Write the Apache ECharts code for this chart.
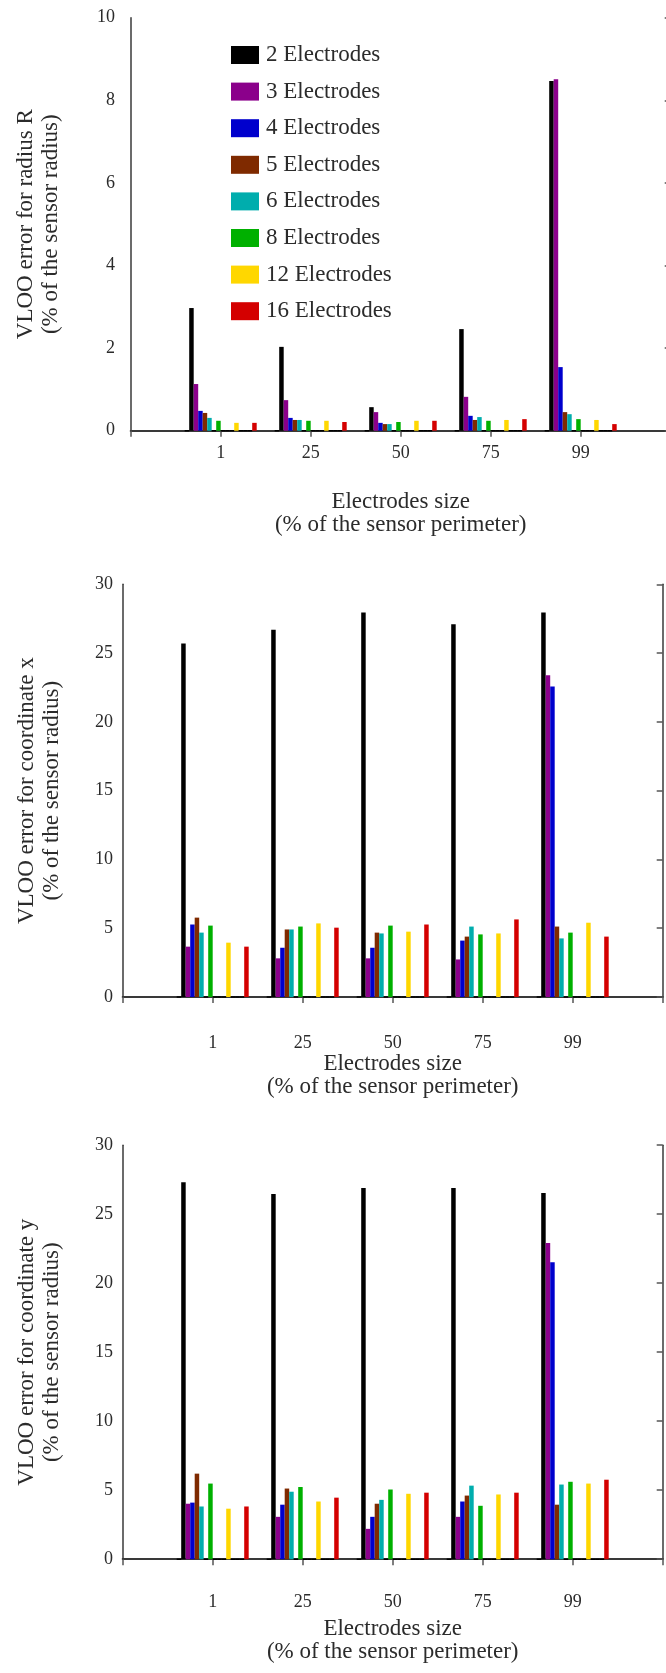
<!DOCTYPE html>
<html>
<head>
<meta charset="utf-8">
<script src="https://cdn.jsdelivr.net/npm/echarts@6/dist/echarts.min.js"></script>
<style>
html,body{margin:0;padding:0;background:#fff;}
#chart{width:666px;height:1673px;}
</style>
</head>
<body>
<div id="chart"></div>
<script>
// ---------- data ----------
const categories = ['1', '25', '50', '75', '99'];
const seriesNames = ['2 Electrodes', '3 Electrodes', '4 Electrodes', '5 Electrodes',
  '6 Electrodes', '8 Electrodes', '12 Electrodes', '16 Electrodes'];
const electrodeCounts = [2, 3, 4, 5, 6, 8, 12, 16];
// every electrode count has a slot in a cluster; counts without results are zero bars
const slotCounts = [1, 2, 3, 4, 5, 6, 7, 8, 9, 10, 11, 12, 13, 14, 15, 16];
const colors = ['#000000', '#8b008b', '#0000cd', '#7f2a00', '#00adad', '#00b000', '#ffd700', '#d40000'];

// VLOO error for radius R
const r2 = [2.97, 2.03, 0.57, 2.46, 8.47];
const r3 = [1.13, 0.74, 0.45, 0.82, 8.51];
const r4 = [0.48, 0.31, 0.19, 0.36, 1.54];
const r5 = [0.43, 0.26, 0.16, 0.26, 0.45];
const r6 = [0.31, 0.26, 0.16, 0.33, 0.40];
const r8 = [0.24, 0.24, 0.21, 0.24, 0.28];
const r12 = [0.19, 0.24, 0.24, 0.26, 0.26];
const r16 = [0.19, 0.21, 0.24, 0.28, 0.16];

// VLOO error for coordinate x
const x2 = [25.7, 26.7, 27.95, 27.1, 27.95];
const x3 = [3.66, 2.81, 2.81, 2.73, 23.38];
const x4 = [5.27, 3.58, 3.58, 4.10, 22.57];
const x5 = [5.77, 4.91, 4.68, 4.39, 5.12];
const x6 = [4.68, 4.91, 4.62, 5.12, 4.26];
const x8 = [5.19, 5.12, 5.19, 4.55, 4.68];
const x12 = [3.95, 5.35, 4.75, 4.62, 5.40];
const x16 = [3.66, 5.04, 5.27, 5.64, 4.39];

// VLOO error for coordinate y
const y2 = [27.31, 26.47, 26.90, 26.90, 26.54];
const y3 = [4.02, 3.07, 2.20, 3.07, 22.91];
const y4 = [4.10, 3.95, 3.07, 4.18, 21.52];
const y5 = [6.20, 5.12, 4.02, 4.61, 3.95];
const y6 = [3.82, 4.89, 4.30, 5.33, 5.41];
const y8 = [5.48, 5.23, 5.05, 3.87, 5.61];
const y12 = [3.66, 4.18, 4.74, 4.69, 5.48];
const y16 = [3.82, 4.46, 4.82, 4.82, 5.76];

const yTitles = [
  'VLOO error for radius R\n(% of the sensor radius)',
  'VLOO error for coordinate x\n(% of the sensor radius)',
  'VLOO error for coordinate y\n(% of the sensor radius)'
];
const xTitle = 'Electrodes size\n(% of the sensor perimeter)';
const yMax = [10, 30, 30];
const yStep = [2, 5, 5];
const panelValues = [
  [r2, r3, r4, r5, r6, r8, r12, r16],
  [x2, x3, x4, x5, x6, x8, x12, x16],
  [y2, y3, y4, y5, y6, y8, y12, y16]
];

// ---------- layout ----------
const grids = [
  { left: 130.7, top: 17.7, width: 540, height: 413 },
  { left: 122.7, top: 584.3, width: 540, height: 412.7 },
  { left: 122.7, top: 1145.2, width: 540, height: 414 }
];
const xLabelMargin = [14, 37, 34];
const xNameGap = [59.5, 51.5, 58];
const yLabelMargin = [15.7, 9.7, 9.7];
const yNameGap = [67.5, 58.5, 58.5];

const serif = '"Liberation Serif", "DejaVu Serif", serif';
const textColor = '#2b2b2b';
const frameColor = '#3a3a3a';
const axisCats = [''].concat(categories, ['']);   // padding slots at both ends of the frame
const pad = v => [null].concat(v, [null]);

const xAxes = [], yAxes = [], series = [];
grids.forEach((g, k) => {
  xAxes.push({
    type: 'category', gridIndex: k, data: axisCats, boundaryGap: false, position: 'bottom',
    axisLine: { show: true, lineStyle: { color: frameColor, width: 2 } },
    axisTick: { show: false },
    axisLabel: { show: true, margin: xLabelMargin[k], fontFamily: serif, fontSize: 18, color: textColor },
    splitLine: { show: false },
    name: xTitle, nameLocation: 'middle', nameGap: xNameGap[k],
    nameTextStyle: { fontFamily: serif, fontSize: 23, color: textColor, lineHeight: 23 }
  });
  xAxes.push({
    type: 'category', gridIndex: k, data: axisCats, boundaryGap: false, position: 'top',
    axisLine: { show: true, lineStyle: { color: frameColor, width: 1.5 } },
    axisTick: { show: true, inside: true, length: 6, lineStyle: { color: '#555', width: 1.5 } },
    axisLabel: { show: false }, splitLine: { show: false }
  });
  yAxes.push({
    type: 'value', gridIndex: k, min: 0, max: yMax[k], interval: yStep[k], position: 'left',
    axisLine: { show: true, lineStyle: { color: frameColor, width: 1.5 } },
    axisTick: { show: false },
    axisLabel: { show: true, margin: yLabelMargin[k], fontFamily: serif, fontSize: 18, color: textColor },
    splitLine: { show: false },
    name: yTitles[k], nameLocation: 'middle', nameRotate: 90, nameGap: yNameGap[k],
    nameTextStyle: { fontFamily: serif, fontSize: 23, color: textColor, lineHeight: 25 }
  });
  yAxes.push({
    type: 'value', gridIndex: k, min: 0, max: yMax[k], interval: yStep[k], position: 'right',
    axisLine: { show: true, lineStyle: { color: frameColor, width: 1.5 } },
    axisTick: { show: true, inside: true, length: 6, lineStyle: { color: '#555', width: 1.5 } },
    axisLabel: { show: false }, splitLine: { show: false }
  });

  slotCounts.forEach(n => {
    const idx = electrodeCounts.indexOf(n);
    const base = {
      type: 'bar', xAxisIndex: 2 * k, yAxisIndex: 2 * k,
      barGap: '0%', barCategoryGap: '20%', animation: false, silent: true
    };
    if (idx >= 0) {
      series.push(Object.assign(base, {
        name: seriesNames[idx],
        data: pad(panelValues[k][idx]),
        itemStyle: { color: colors[idx] }
      }));
    } else {
      series.push(Object.assign(base, {
        name: n + ' Electrode' + (n > 1 ? 's' : '') + ' (none)',
        data: pad(categories.map(() => 0)),
        itemStyle: { color: 'rgba(0,0,0,0)', borderColor: '#000', borderWidth: 1.5 }
      }));
    }
  });
});

const chart = echarts.init(document.getElementById('chart'), null, { renderer: 'canvas' });
chart.setOption({
  backgroundColor: '#ffffff',
  animation: false,
  grid: grids.map(g => Object.assign({ containLabel: false, outerBoundsMode: 'none' }, g)),
  xAxis: xAxes,
  yAxis: yAxes,
  legend: {
    data: seriesNames, orient: 'vertical', left: 231, top: 43.5, padding: 0,
    icon: 'rect', itemWidth: 28, itemHeight: 18, itemGap: 13.6,
    selectedMode: false,
    textStyle: { fontFamily: serif, fontSize: 23, color: textColor, padding: [0, 0, 0, 2] }
  },
  series: series
});
</script>
</body>
</html>
